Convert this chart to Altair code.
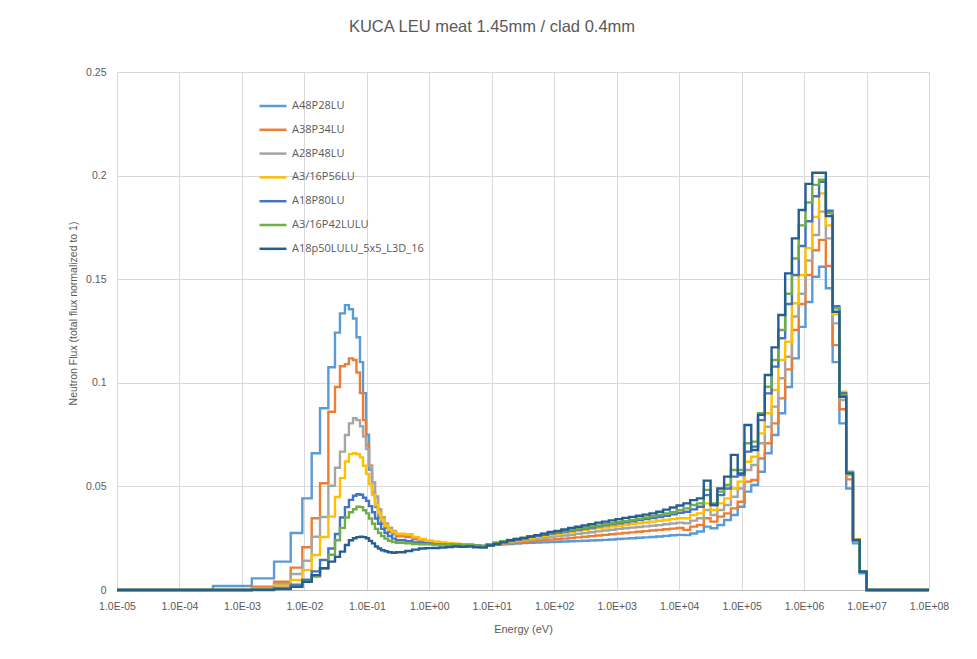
import altair as alt
import pandas as pd

# ---------------- data ----------------
chart_title = ["KUCA LEU meat 1.45mm / clad 0.4mm"]
series_names = ["A48P28LU", "A38P34LU", "A28P48LU", "A3/16P56LU",
                "A18P80LU", "A3/16P42LULU", "A18p50LULU_5x5_L3D_16"]
series_colors = ["#5B9BD5", "#ED7D31", "#A5A5A5", "#FFC000",
                 "#4472C4", "#70AD47", "#255E91"]

# energy group boundaries (eV), ascending
energy_edges = [
    1e-5, 3.44e-4, 1.44e-3, 3.27e-3, 6.04e-3, 9.27e-3, 1.31e-2, 1.78e-2, 2.42e-2,
    3.09e-2, 3.71e-2, 4.46e-2, 5.17e-2, 6.0e-2, 6.82e-2, 7.76e-2, 8.69e-2, 9.71e-2,
    0.1084, 0.121, 0.135, 0.151, 0.169, 0.192, 0.218, 0.253, 0.293,
    0.414, 0.531, 0.682, 0.876, 1.125, 1.445, 1.855, 2.382, 3.059, 3.928, 5.043,
    6.476, 8.315, 10.68, 13.71, 17.60, 22.60, 29.02, 37.27, 47.85, 61.44, 78.89,
    101.3, 130.1, 167.0, 214.4, 275.3, 353.6, 454.0, 582.9, 748.5, 961.1, 1234,
    1585, 2035, 2613, 3355, 4307, 5531, 7102, 9119, 11709, 15034, 19305, 24788,
    31828, 40868, 52475, 67379, 86517, 111090, 142640, 183160, 235180, 301970,
    387740, 497870, 639280, 820850, 1054000, 1353400, 1737700, 2231300, 2865000,
    3678800, 4723700, 6065300, 7788000, 1e7, 1e8,
]

flux_A48P28LU = [0,
    .0019, .0056, .0137, .0275, .0442, .066, .0877, .1075, .1242, .1335, .1375, .1355, .131,
    .122, .110, .095, .075, .058, .047, .040, .035, .032, .030, .028, .027, .026,
    .0255, .0245, .0238, .0232, .0228, .0225, .0222, .0220, .0218, .0216, .0213, .0210,
    .0215, .0218, .0220, .0222, .0224, .0226, .0228, .0229, .0230, .0232, .0233, .0234,
    .0235, .0236, .0238, .0239, .0240, .0242, .0244, .0246, .0248, .0250, .0252, .0254,
    .0256, .0258, .0261, .0264, .0266,
    .0265, .0273, .0282, .0306, .0298, .0314, .0338, .0362, .0402, .0475, .0507, .0571,
    .066, .0748, .0853, .098, .1118, .127, .139, .1512, .156, .1456, .110, .0804, .049,
    .0225, .008,
    0]
flux_A38P34LU = [0,
    0, .0016, .004, .0108, .0206, .0346, .0515, .086, .098, .108, .109, .1118, .111,
    .105, .095, .082, .070, .060, .052, .045, .039, .035, .032, .030, .028, .026,
    .0262, .0250, .0242, .0235, .0230, .0226, .0223, .0221, .0219, .0217, .0214, .0211,
    .0216, .0220, .0223, .0226, .0229, .0232, .0235, .0238, .0240, .0243, .0245, .0248,
    .0251, .0254, .0257, .0260, .0263, .0266, .0269, .0272, .0275, .0278, .0281, .0284,
    .0287, .0290, .0293, .0296, .0299,
    .029, .0306, .0314, .0346, .033, .0354, .037, .0394, .0426, .0523, .0531, .0635,
    .0708, .0804, .0925, .1065, .1255, .138, .152, .164, .169, .1564, .1182, .0872, .0534,
    .0241, .0088,
    0]
flux_A28P48LU = [0,
    0, .0008, .0029, .0077, .0141, .0257, .0352, .0503, .059, .0668, .0748, .0804, .0829,
    .082, .079, .074, .068, .060, .052, .045, .039, .035, .032, .030, .0285, .027,
    .0268, .0255, .0245, .0237, .0232, .0228, .0225, .0222, .0220, .0218, .0215, .0212,
    .0218, .0223, .0227, .0231, .0235, .0239, .0243, .0247, .0251, .0255, .0259, .0263,
    .0267, .0271, .0275, .0279, .0283, .0287, .0291, .0295, .0298, .0301, .0304, .0307,
    .0310, .0313, .0317, .0321, .0325,
    .0322, .0335, .0346, .0386, .0362, .0386, .041, .045, .049, .0579, .0603, .0708,
    .0788, .0885, .1022, .1126, .132, .143, .159, .1713, .1826, .1697, .1287, .0917, .0555,
    .0245, .0089,
    0]
flux_A316P56LU = [0,
    0, .0005, .0021, .0048, .0096, .0169, .0256, .0354, .0449, .054, .062, .0656, .066,
    .0655, .064, .060, .056, .051, .046, .041, .037, .034, .031, .029, .028, .027,
    .0268, .0256, .0246, .0238, .0233, .0229, .0226, .0223, .0221, .0219, .0216, .0213,
    .0219, .0225, .0230, .0235, .0240, .0245, .0250, .0255, .0260, .0265, .0270, .0275,
    .0280, .0285, .0290, .0294, .0298, .0302, .0306, .0310, .0314, .0318, .0322, .0326,
    .0330, .0334, .0338, .0342, .0346,
    .0346, .0362, .037, .0418, .0386, .0418, .0442, .049, .0523, .0619, .0643, .0756,
    .0853, .0965, .111, .1198, .1384, .152, .165, .180, .1914, .176, .133, .0957, .0563,
    .0245, .0089,
    0]
flux_A18P80LU = [0,
    0, .0003, .0010, .0025, .005, .009, .0145, .020, .027, .035, .040, .0435, .0455,
    .0462, .046, .0445, .043, .0405, .0375, .0345, .032, .0295, .0275, .026, .0248, .024,
    .0235, .0230, .0226, .0223, .0221, .0220, .0219, .0219, .0218, .0217, .0215, .0213,
    .0220, .0227, .0233, .0239, .0245, .0251, .0257, .0262, .0267, .0272, .0277, .0282,
    .0287, .0292, .0297, .0302, .0307, .0312, .0317, .0322, .0327, .0332, .0337, .0342,
    .0347, .0352, .0358, .0365, .0372,
    .0378, .0389, .0402, .0458, .041, .0458, .049, .0547, .0555, .0668, .0692, .082,
    .0949, .1078, .1215, .138, .152, .166, .178, .190, .197, .183, .137, .095, .057,
    .024, .0088,
    0]
flux_A316P42LULU = [0,
    0, .0002, .0008, .002, .004, .0065, .0105, .017, .024, .030, .035, .0375, .039,
    .0402, .040, .0385, .037, .0345, .032, .0295, .0275, .026, .0248, .0238, .0232, .0228,
    .0225, .0222, .0221, .0220, .0219, .0219, .0219, .0219, .0218, .0217, .0215, .0213,
    .0221, .0228, .0235, .0241, .0247, .0253, .0259, .0265, .0271, .0277, .0282, .0287,
    .0292, .0297, .0302, .0307, .0312, .0317, .0322, .0328, .0333, .0338, .0344, .0350,
    .0356, .0362, .0369, .0376, .0385,
    .0394, .041, .0418, .0483, .0418, .0475, .0507, .0579, .0579, .0708, .0716, .0853,
    .0981, .111, .1255, .143, .160, .176, .187, .1955, .198, .182, .136, .094, .057,
    .024, .0088,
    0]
flux_A18p50LULU = [0,
    0, 0, .0005, .0016, .004, .0072, .0105, .0137, .016, .0185, .0217, .024, .025,
    .0255, .0257, .0255, .025, .0237, .0225, .021, .020, .0192, .0187, .0182, .018, .0182,
    .0188, .0195, .0200, .0202, .0203, .0205, .0207, .0210, .0208, .0210, .0206, .0205,
    .0215, .0222, .0230, .0240, .0245, .0250, .0258, .0265, .0272, .0280, .0285, .0292,
    .0300, .0305, .0312, .0318, .0325, .0330, .0336, .0342, .0348, .0353, .0358, .0364,
    .0370, .0378, .0388, .0398, .0408,
    .0418, .0434, .0442, .0528, .041, .049, .0547, .0652, .0563, .0796, .0676, .0845,
    .1038, .1171, .1327, .1528, .1697, .1834, .196, .2014, .2014, .1805, .1343, .0933, .0563,
    .0241, .0088,
    0]

x_tick_values = [1e-5, 1e-4, 1e-3, 1e-2, 1e-1, 1e0, 1e1, 1e2, 1e3, 1e4, 1e5, 1e6, 1e7, 1e8]
y_tick_values = [0, 0.05, 0.1, 0.15, 0.2, 0.25]

all_flux = [flux_A48P28LU, flux_A38P34LU, flux_A28P48LU, flux_A316P56LU,
            flux_A18P80LU, flux_A316P42LULU, flux_A18p50LULU]

# ---------------- build step table (step-after) ----------------
rows = []
for name, vals in zip(series_names, all_flux):
    for i, v in enumerate(vals):
        rows.append({"series": name, "E": energy_edges[i], "flux": v, "i": i})
    rows.append({"series": name, "E": energy_edges[len(vals)], "flux": vals[-1], "i": len(vals)})
df = pd.DataFrame(rows)

label_expr = ("'1.0E' + (round(log(datum.value)/LN10) < 0 ? '-' : '+') + "
              "(abs(round(log(datum.value)/LN10)) < 10 ? '0' : '') + "
              "abs(round(log(datum.value)/LN10))")

GRAY_TXT = "#595959"
FONT = "Liberation Sans"

color_scale = alt.Scale(domain=series_names, range=series_colors)

x_enc = alt.X("E:Q",
              scale=alt.Scale(type="log", domain=[1e-5, 1e8], nice=False),
              axis=alt.Axis(values=x_tick_values, labelExpr=label_expr, title="Energy (eV)",
                            grid=True, gridColor="#d9d9d9", gridWidth=1, ticks=False,
                            domainColor="#bfbfbf", labelFontSize=10.5, labelColor=GRAY_TXT,
                            labelFlush=False, labelOverlap=False,
                            labelPadding=11, titleFontSize=11, titleColor=GRAY_TXT,
                            titleFontWeight="normal", titlePadding=12,
                            labelFont=FONT, titleFont=FONT))
y_enc = alt.Y("flux:Q",
              scale=alt.Scale(domain=[0, 0.25], nice=False),
              axis=alt.Axis(values=y_tick_values, format=".2~f",
                            title="Neutron Flux (total flux normalized to 1)",
                            grid=True, gridColor="#d9d9d9", gridWidth=1, ticks=False,
                            domain=False, labelFontSize=10.5, labelColor=GRAY_TXT,
                            labelFlush=False,
                            labelPadding=11, titleFontSize=10.5, titleColor=GRAY_TXT,
                            titleFontWeight="normal", titleX=-44, titleY=241,
                            titleAlign="center", titleBaseline="middle", titleAngle=270,
                            labelFont=FONT, titleFont=FONT))
color_enc = alt.Color("series:N", scale=color_scale,
                      legend=alt.Legend(orient="none", legendX=141, legendY=19, title=None,
                                        symbolType="stroke", symbolSize=729,
                                        symbolStrokeWidth=2.5, labelFontSize=11,
                                        labelColor=GRAY_TXT, labelFont="Open Sans",
                                        rowPadding=3.8, labelOffset=4, symbolOffset=0,
                                        padding=0))

base = alt.Chart(df)
layers = []
for name in series_names:
    layers.append(
        base.transform_filter(alt.datum.series == name)
        .mark_line(interpolate="step-after", strokeWidth=2.4)
        .encode(x=x_enc, y=y_enc, color=color_enc, order="i:Q")
    )

title_layer = alt.Chart(pd.DataFrame({"t": chart_title})).mark_text(
    font=FONT, fontSize=16.5, color=GRAY_TXT, align="center", baseline="alphabetic"
).encode(x=alt.value(375), y=alt.value(-40), text="t:N")

chart = alt.layer(*layers, title_layer).properties(
    width=812, height=518,
    autosize=alt.AutoSizeParams(type="none"),
    padding={"left": 109, "top": 64, "right": 38, "bottom": 53},
    background="white",
).configure_view(stroke=None)

chart.save("out.html", embed_options={"renderer": "svg", "actions": False})
